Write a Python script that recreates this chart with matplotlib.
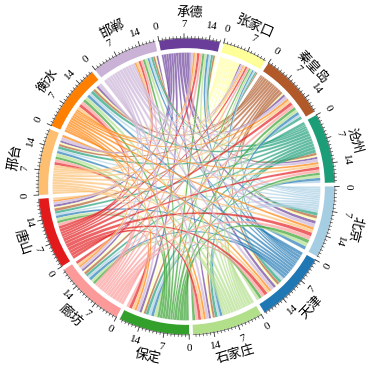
import numpy as np
import matplotlib
matplotlib.use("Agg")
import matplotlib.pyplot as plt
from matplotlib.path import Path
from matplotlib.patches import PathPatch, Wedge

# sectors, clockwise from the top
names = ['承德', '张家口', '秦皇岛', '沧州', '北京', '天津', '石家庄',
         '保定', '廊坊', '唐山', '邢台', '衡水', '邯郸']
colors = ['#6a3d9a', '#ffff99', '#b15928', '#1b9e77', '#a6cee3', '#1f78b4',
          '#b2df8a', '#33a02c', '#fb9a99', '#e31a1c', '#fdbf6f', '#ff7f00',
          '#cab2d6']

# flow matrix: row = from, column = to (same order as names)
flows = np.array([
    [0, .5, .8, .7, 1.0, .9, .7, .8, .7, .8, .7, .8, .6],
    [.5, 0, .5, .5, .7, .6, .5, .6, .5, .4, .5, .6, .4],
    [.6, .4, 0, .8, .9, .8, .7, .7, .8, .9, .7, .8, .6],
    [.7, .5, .9, 0, 1.0, 1.0, .9, .9, .8, .8, .9, 1.0, .7],
    [.6, .5, .7, .7, 0, .9, .7, .8, .7, .6, .6, .7, .5],
    [.7, .5, .9, .9, 1.1, 0, .8, .9, .9, .8, .8, .9, .6],
    [.7, .6, .9, .8, 1.1, .9, 0, 1.0, .8, .8, 1.0, 1.0, .8],
    [.7, .5, .9, .8, 1.1, .9, .9, 0, .8, .8, .8, .9, .7],
    [.8, .6, .9, .9, 1.2, 1.0, .9, .9, 0, .9, .9, 1.0, .7],
    [.8, .6, 1.0, .9, 1.2, 1.1, .9, 1.0, .9, 0, .9, 1.0, .7],
    [.6, .5, .8, .8, .9, .8, .8, .8, .7, .7, 0, .9, .7],
    [.6, .4, .7, .7, .8, .7, .7, .7, .6, .6, .8, 0, .6],
    [.7, .6, .9, .9, 1.1, 1.0, .9, .9, .8, .8, 1.0, 1.2, 0],
])
tick_labels = [0, 7, 14]

n = len(names)
out_tot = flows.sum(axis=1)
in_tot = flows.sum(axis=0)
size = out_tot + in_tot
gap = 1.5
unit = (360 - n * gap) / size.sum()
start0 = -10.75

R_BAND, R_IN, R_LINK = 1.0, 0.935, 0.905


def xy(theta, r):
    # theta in degrees, clockwise from the top
    a = np.radians(90 - theta)
    return r * np.cos(a), r * np.sin(a)


def arc(t1, t2, r, num=20):
    ts = np.linspace(t1, t2, num)
    return [xy(t, r) for t in ts]


def text_rot(theta):
    th = theta % 360
    return 180 - th if 114 < th < 262 else -th


starts = []
t = start0
for i in range(n):
    starts.append(t)
    t += size[i] * unit + gap

# positions of every link end inside the sectors
src_pos = {}
dst_pos = {}
for i in range(n):
    t = starts[i]
    for k in range(1, n):
        j = (i - k) % n
        w = flows[i, j] * unit
        src_pos[(i, j)] = (t, t + w)
        t += w
    for k in range(1, n):
        j = (i - k) % n
        w = flows[j, i] * unit
        dst_pos[(j, i)] = (t, t + w)
        t += w

fig = plt.figure(figsize=(3.77, 3.79), dpi=100)
ax = fig.add_axes([0, 0, 1, 1])
ax.set_xlim(-186.5 / 148, (377 - 186.5) / 148)
ax.set_ylim(-(379 - 186.5) / 148, 186.5 / 148)
ax.axis('off')

# links
for i in range(n):
    for j in range(n):
        if i == j or flows[i, j] <= 0:
            continue
        a1, a2 = src_pos[(i, j)]
        b1, b2 = dst_pos[(i, j)]
        verts = arc(a1, a2, R_LINK)
        codes = [Path.MOVETO] + [Path.LINETO] * (len(verts) - 1)
        verts += [(0, 0), xy(b1, R_LINK)]
        codes += [Path.CURVE3, Path.CURVE3]
        tv = arc(b1, b2, R_LINK)[1:]
        verts += tv
        codes += [Path.LINETO] * len(tv)
        verts += [(0, 0), xy(a1, R_LINK), (0, 0)]
        codes += [Path.CURVE3, Path.CURVE3, Path.CLOSEPOLY]
        ax.add_patch(PathPatch(Path(verts, codes), facecolor=colors[i],
                               edgecolor='white', lw=0.15, alpha=0.68))

# sector bands, ticks and labels
for i in range(n):
    s = starts[i]
    e = s + size[i] * unit
    ax.add_patch(Wedge((0, 0), R_BAND, 90 - e, 90 - s, width=R_BAND - R_IN,
                       facecolor=colors[i], edgecolor='none'))
    ax.plot(*zip(*arc(s, e, R_BAND + 0.003, 40)), color='#444444', lw=0.4)
    for k in range(int(np.floor(size[i])) + 1):
        tt = s + k * unit
        major = k % 7 == 0
        L = 0.032 if major else 0.016
        p0 = xy(tt, R_BAND)
        p1 = xy(tt, R_BAND + L)
        ax.plot([p0[0], p1[0]], [p0[1], p1[1]], color='#333333',
                lw=0.6 if major else 0.45)
    for v in tick_labels:
        if v > size[i]:
            continue
        tt = s + v * unit
        x, y = xy(tt, 1.095)
        ax.text(x, y, str(v), rotation=text_rot(tt), rotation_mode='anchor',
                ha='center', va='center', fontsize=8,
                family='Liberation Serif')
    mid = (s + e) / 2
    x, y = xy(mid, 1.175)
    ax.text(x, y, names[i], rotation=text_rot(mid), rotation_mode='anchor',
            ha='center', va='center', fontsize=9.5,
            family=['Noto Sans CJK SC', 'DejaVu Sans'])

fig.savefig('out.png', dpi=100)
